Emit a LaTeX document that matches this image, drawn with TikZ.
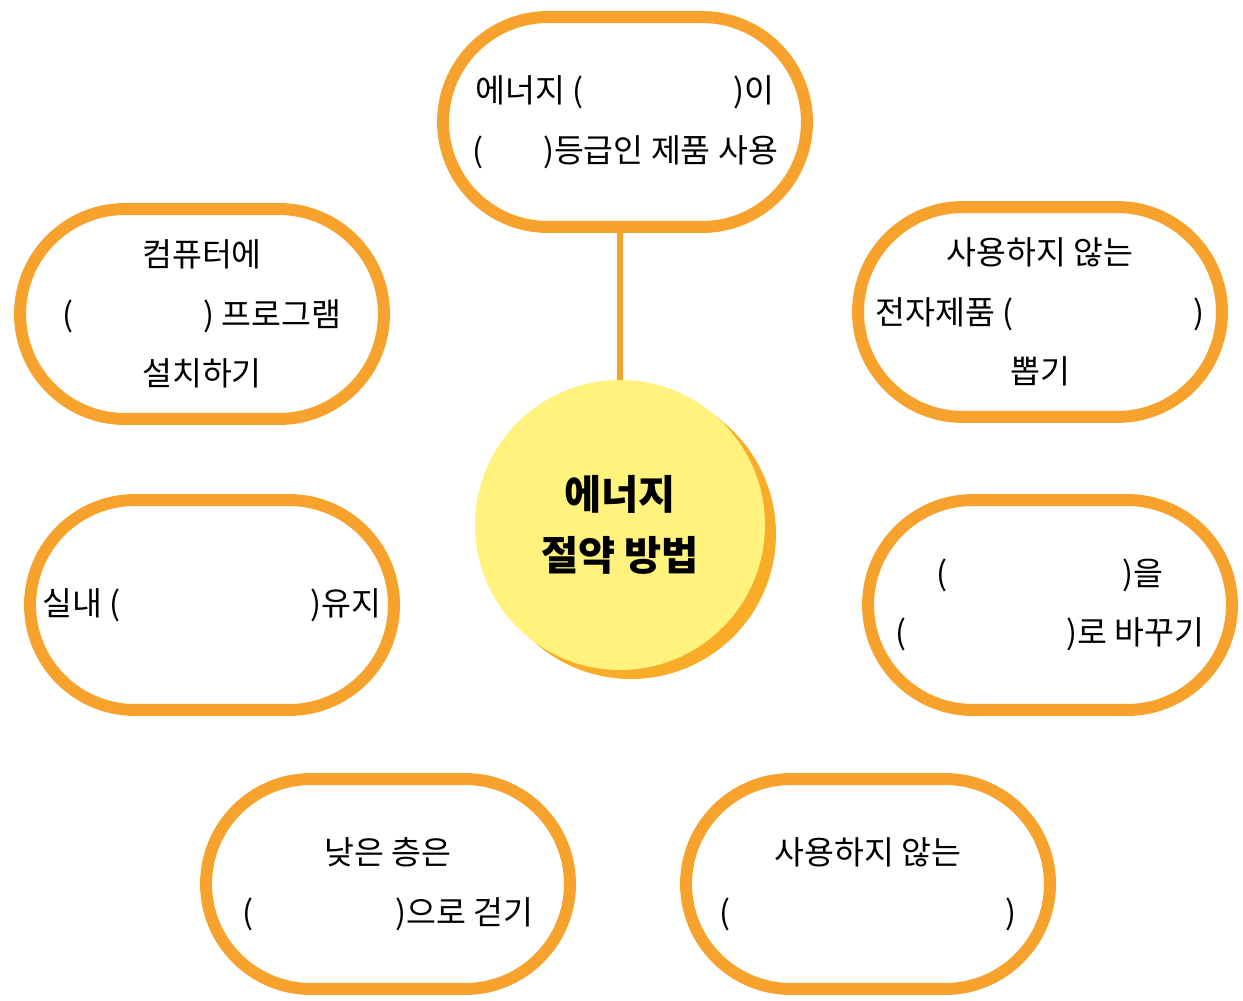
\documentclass[tikz,border=0pt]{standalone}
\usepackage{fontspec}
\setmainfont{Noto Sans CJK KR}
\usepackage{tikz}
\usetikzlibrary{shadows}
\usepackage{xcolor}
\definecolor{ringorange}{RGB}{246,162,45}
\definecolor{hubyellow}{RGB}{255,242,125}
\definecolor{hubshadow}{RGB}{248,172,40}

\begin{document}
\begin{tikzpicture}[
    x=0.02cm, y=-0.02cm,
    idea/.style={rectangle, draw=ringorange, line width=0.24cm, rounded corners=2.1cm, fill=white, minimum width=7.28cm, minimum height=4.2cm, inner sep=0pt, align=center, font={\fontsize{18.5pt}{34pt}\selectfont}},
    hub/.style={circle, fill=hubyellow, minimum size=5.8cm, inner sep=0pt, align=center, font={\bfseries\fontsize{23pt}{35pt}\selectfont}, drop shadow={shadow xshift=0.22cm, shadow yshift=-0.18cm, fill=hubshadow, opacity=1}},
    link/.style={draw=ringorange, line width=0.12cm}
]
    \useasboundingbox (0,0) rectangle (1243,1000);

    \node[hub] (hub) at (620,525) {에너지\\절약 방법};
    \node[idea] (grade) at (625,122) {에너지 (\hspace{3.0cm})이\\(\hspace{1.2cm})등급인 제품 사용};
    \node[idea] (computer) at (202,314) {컴퓨터에\\(\hspace{2.6cm}) 프로그램\\설치하기};
    \node[idea] (unplug) at (1040,312) {사용하지 않는\\전자제품 (\hspace{3.6cm})\\뽑기};
    \node[idea] (indoor) at (212,605) {실내 (\hspace{3.8cm})유지};
    \node[idea] (replace) at (1050,605) {(\hspace{3.5cm})을\\(\hspace{3.2cm})로 바꾸기};
    \node[idea] (stairs) at (388,884) {낮은 층은\\(\hspace{2.85cm})으로 걷기};
    \node[idea] (unused) at (868,884) {사용하지 않는\\(\hspace{5.5cm})};

    \draw[link] (hub.north) -- (hub.north |- grade.south);
\end{tikzpicture}
\end{document}
